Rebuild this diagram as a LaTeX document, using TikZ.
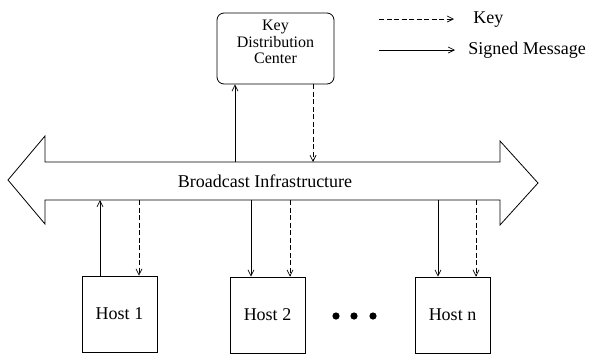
\documentclass[tikz,border=0pt]{standalone}
\usepackage{fontspec}
\setmainfont{Liberation Serif}
\usetikzlibrary{arrows.meta}
\begin{document}
\begin{tikzpicture}[x=1pt,y=-1pt,
  line width=0.8pt,
  tipp/.style={-{Straight Barb[length=6pt,width=6pt,line width=0.7pt]}},
  sig/.style={tipp},
  key/.style={tipp,dash pattern=on 5pt off 2.5pt},
  hostbox/.style={draw,rectangle,minimum width=75pt,minimum height=76pt,inner sep=0pt,font=\fontsize{18}{20}\selectfont},
  kdcbox/.style={draw,rectangle,rounded corners=7pt,minimum width=117pt,minimum height=71pt,inner sep=0pt},
  small/.style={font=\fontsize{16}{16.5}\selectfont,align=center,inner sep=0pt},
  big/.style={font=\fontsize{18}{20}\selectfont,inner sep=0pt}]
\useasboundingbox (0,0) rectangle (594,354);
% broadcast bus
\draw (8,180) -- (45,136) -- (45,162) -- (500,162) -- (500,141) -- (538,183)
  -- (500,225) -- (500,200) -- (45,200) -- (45,224) -- cycle;
\node[big] (bus) at (265,181) {Broadcast Infrastructure};
\coordinate (bt) at (0,162);
\coordinate (bb) at (0,200);
% KDC
\node[kdcbox] (kdc) at (275.5,48.5) {};
\node[small] (kdct) at (275.5,42) {Key\\Distribution\\Center};
\draw[sig] (bt -| 235,0) -- (kdc.south -| 235,0);
\draw[key] (kdc.south -| 313,0) -- (bt -| 313,0);
% legend
\coordinate (k1) at (379,19); \coordinate (k2) at (454,19);
\coordinate (s1) at (379,50); \coordinate (s2) at (455,50);
\draw[key] (k1) -- (k2);
\draw[sig] (s1) -- (s2);
\node[big,anchor=west] (lk) at (473,20) {Key};
\node[big,anchor=west] (ls) at (468,50) {Signed Message};
% hosts
\node[hostbox] (h1) at (119.5,314) {Host 1};
\node[hostbox] (h2) at (267.5,315) {Host 2};
\node[hostbox] (hn) at (452.5,315) {Host n};
\draw[sig] (h1.north -| 100,0) -- (bb -| 100,0);
\draw[key] (bb -| 139,0) -- (h1.north -| 139,0);
\draw[sig] (bb -| 251,0) -- (h2.north -| 251,0);
\draw[key] (bb -| 290,0) -- (h2.north -| 290,0);
\draw[sig] (bb -| 438,0) -- (hn.north -| 438,0);
\draw[key] (bb -| 476,0) -- (hn.north -| 476,0);
% dots
\fill (336,316) circle (3.6pt) (354,316) circle (3.6pt) (373,316) circle (3.6pt);
\end{tikzpicture}
\end{document}
